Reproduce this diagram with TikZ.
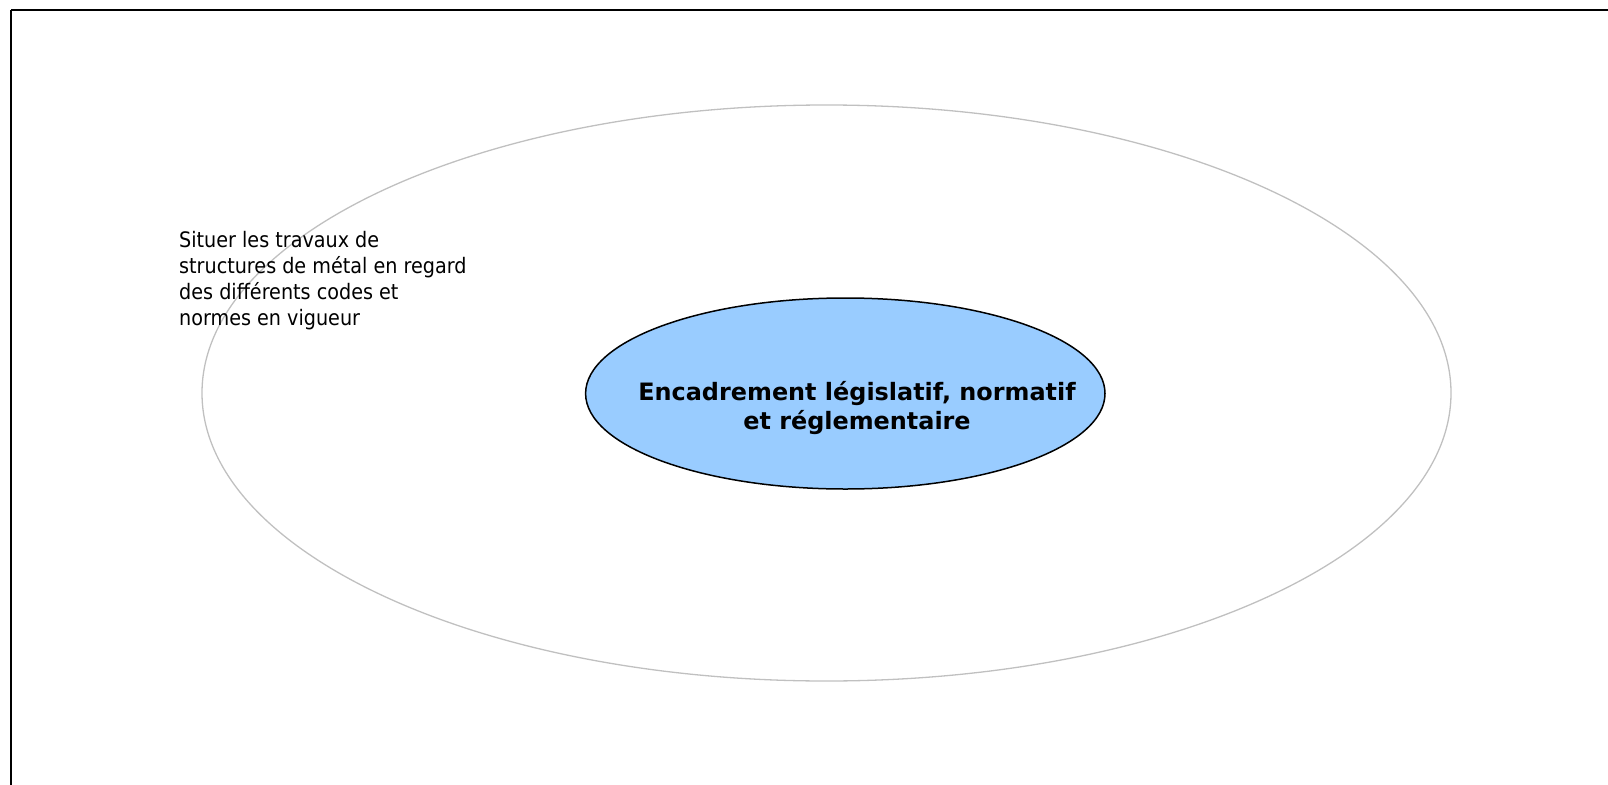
\documentclass[tikz,border=0pt]{standalone}
\usepackage{fontspec}
\setmainfont{DejaVu Sans Condensed}
\newfontfamily\bigfont{DejaVu Sans}
\definecolor{outergray}{RGB}{192,192,192}
\definecolor{innerblue}{RGB}{153,204,255}
\tikzset{
  frame/.style={draw=black, line width=2bp},
  outerell/.style={draw=outergray, line width=1.3bp},
  innerell/.style={draw=black, fill=innerblue, line width=1.5bp},
  smalltxt/.style={font=\fontsize{21.4}{26}\selectfont, align=left, inner sep=0pt, anchor=base west},
  bigtxt/.style={font=\bigfont\fontsize{24}{28.2}\selectfont\bfseries, align=center, inner sep=0pt, anchor=base}
}
\begin{document}
\begin{tikzpicture}[x=1bp,y=-1bp]
\useasboundingbox (0,0) rectangle (1608,785);
\draw[frame] (11,10) -- (1620,10);
\draw[frame] (11,10) -- (11,800);
\draw[outerell] (826.5,393) ellipse [x radius=624.5, y radius=288];
\draw[innerell] (845.3,393.5) ellipse [x radius=259.7, y radius=95.5];
\node[bigtxt] (center) at (857,429) {Encadrement législatif, normatif\\et réglementaire};
\node[smalltxt] (goal) at (179,325) {Situer les travaux de\\structures de métal en regard\\des différents codes et\\normes en vigueur};
\end{tikzpicture}
\end{document}
